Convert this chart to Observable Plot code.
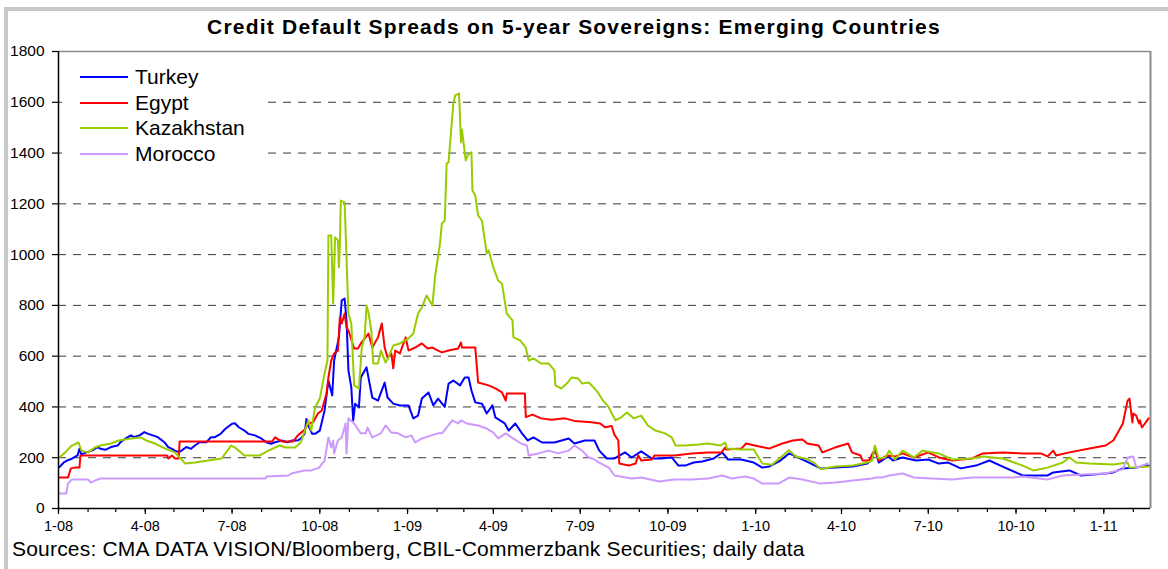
<!DOCTYPE html>
<html><head><meta charset="utf-8">
<script src="https://cdn.jsdelivr.net/npm/d3@7"></script>
<script src="https://cdn.jsdelivr.net/npm/@observablehq/plot@0.6"></script>
<style>
body{margin:0;background:#fff;font-family:"Liberation Sans",Arial,sans-serif;}
#wrap{position:relative;width:1168px;height:569px;overflow:hidden;background:#fff;}
#border{position:absolute;left:4px;top:7px;width:1300px;height:700px;border-left:4px solid #c8c8c8;border-top:4px solid #c8c8c8;box-sizing:border-box;}
#title{position:absolute;left:0;top:15px;width:1148px;text-align:center;font-weight:bold;font-size:21px;letter-spacing:1.2px;line-height:24px;color:#000;}
#chart{position:absolute;left:0;top:40px;}
#legend{position:absolute;left:62px;top:64px;width:200px;background:#fff;}
.row{height:25.7px;display:flex;align-items:center;font-size:21px;color:#000;}
.sw{width:48px;height:2px;margin-left:18px;margin-right:7px;}
#caption{position:absolute;left:12px;top:537px;font-size:21px;letter-spacing:0.2px;line-height:24px;color:#000;white-space:nowrap;}
</style>
</head><body>
<div id="wrap">
<div id="border"></div>
<div id="title"></div>
<div id="chart"></div>
<div id="legend"></div>
<div id="caption"></div>
</div>
<script>
const titleText = "Credit Default Spreads on 5-year Sovereigns: Emerging Countries";
const captionText = "Sources: CMA DATA VISION/Bloomberg, CBIL-Commerzbank Securities; daily data";
const seriesNames = ["Turkey", "Egypt", "Kazakhstan", "Morocco"];
const seriesColors = ["#0000ff", "#ff0000", "#99cc00", "#cc99ff"];
const yTicks = [0, 200, 400, 600, 800, 1000, 1200, 1400, 1600, 1800];
const gridValues = [200, 400, 600, 800, 1000, 1200, 1400, 1600];
const xTickDates = ["2008-01-01","2008-04-01","2008-07-01","2008-10-01","2009-01-01","2009-04-01","2009-07-01","2009-10-01","2010-01-01","2010-04-01","2010-07-01","2010-10-01","2011-01-01"];
const xTickLabels = ["1-08","4-08","7-08","10-08","1-09","4-09","7-09","10-09","1-10","4-10","7-10","10-10","1-11"];
const xDomain = ["2008-01-01", "2011-02-19"];

const turkey = [["2008-01-02",163],["2008-01-07",183],["2008-01-10",189],["2008-01-15",196],["2008-01-21",209],["2008-01-23",235],["2008-01-25",213],["2008-01-31",222],["2008-02-05",228],["2008-02-11",242],["2008-02-14",235],["2008-02-19",231],["2008-02-25",242],["2008-03-03",248],["2008-03-06",261],["2008-03-11",275],["2008-03-17",288],["2008-03-20",281],["2008-03-26",288],["2008-03-31",301],["2008-04-04",294],["2008-04-09",288],["2008-04-14",281],["2008-04-21",261],["2008-04-25",242],["2008-04-29",235],["2008-05-02",228],["2008-05-06",222],["2008-05-09",228],["2008-05-14",242],["2008-05-19",235],["2008-05-23",248],["2008-05-28",261],["2008-06-04",261],["2008-06-09",281],["2008-06-13",281],["2008-06-19",294],["2008-06-24",314],["2008-07-01",334],["2008-07-04",336],["2008-07-08",320],["2008-07-14",307],["2008-07-18",294],["2008-07-25",288],["2008-08-01",275],["2008-08-06",261],["2008-08-11",255],["2008-08-15",261],["2008-08-22",268],["2008-08-28",261],["2008-09-02",268],["2008-09-08",268],["2008-09-11",275],["2008-09-15",294],["2008-09-17",353],["2008-09-19",327],["2008-09-23",294],["2008-09-26",294],["2008-10-01",307],["2008-10-06",386],["2008-10-10",504],["2008-10-14",445],["2008-10-16",583],["2008-10-21",674],["2008-10-24",820],["2008-10-27",827],["2008-10-29",740],["2008-10-31",544],["2008-11-03",477],["2008-11-05",347],["2008-11-07",413],["2008-11-11",398],["2008-11-13",516],["2008-11-19",556],["2008-11-21",516],["2008-11-25",437],["2008-12-01",425],["2008-12-08",496],["2008-12-11",437],["2008-12-17",413],["2008-12-24",406],["2009-01-02",406],["2009-01-07",355],["2009-01-12",366],["2009-01-16",433],["2009-01-23",457],["2009-01-28",406],["2009-02-02",433],["2009-02-09",400],["2009-02-13",492],["2009-02-18",504],["2009-02-25",485],["2009-03-02",516],["2009-03-06",516],["2009-03-09",465],["2009-03-13",418],["2009-03-20",413],["2009-03-25",374],["2009-03-31",406],["2009-04-03",359],["2009-04-08",347],["2009-04-13",335],["2009-04-17",307],["2009-04-24",335],["2009-05-01",296],["2009-05-07",268],["2009-05-13",280],["2009-05-22",260],["2009-06-04",260],["2009-06-19",276],["2009-06-25",256],["2009-07-06",268],["2009-07-16",268],["2009-07-21",228],["2009-07-29",197],["2009-08-06",197],["2009-08-17",221],["2009-08-24",201],["2009-09-03",225],["2009-09-14",197],["2009-09-24",197],["2009-10-05",201],["2009-10-12",169],["2009-10-19",169],["2009-10-28",181],["2009-11-06",185],["2009-11-18",197],["2009-11-27",221],["2009-12-03",193],["2009-12-17",193],["2009-12-30",181],["2010-01-08",161],["2010-01-15",165],["2010-01-27",189],["2010-02-05",217],["2010-02-17",197],["2010-02-26",181],["2010-03-10",158],["2010-03-26",161],["2010-04-13",165],["2010-04-28",177],["2010-05-03",193],["2010-05-06",240],["2010-05-10",181],["2010-05-20",205],["2010-05-25",189],["2010-06-04",201],["2010-06-18",189],["2010-07-01",193],["2010-07-12",177],["2010-07-22",181],["2010-08-04",158],["2010-08-20",169],["2010-09-03",189],["2010-09-17",165],["2010-10-08",130],["2010-11-03",130],["2010-11-09",142],["2010-11-26",150],["2010-12-08",130],["2011-01-03",138],["2011-01-11",142],["2011-01-21",158],["2011-02-04",161],["2011-02-17",169]];

const egypt = [["2008-01-02",122],["2008-01-11",122],["2008-01-14",158],["2008-01-18",161],["2008-01-23",161],["2008-01-24",209],["2008-04-24",209],["2008-04-25",197],["2008-04-29",209],["2008-05-02",197],["2008-05-06",197],["2008-05-07",264],["2008-08-12",264],["2008-08-15",280],["2008-08-22",264],["2008-09-03",264],["2008-09-08",288],["2008-09-15",310],["2008-09-19",335],["2008-09-24",340],["2008-09-29",374],["2008-10-03",386],["2008-10-08",453],["2008-10-10",516],["2008-10-13",583],["2008-10-16",611],["2008-10-20",622],["2008-10-22",753],["2008-10-24",729],["2008-10-27",768],["2008-10-29",713],["2008-10-31",701],["2008-11-06",630],["2008-11-10",630],["2008-11-13",650],["2008-11-18",674],["2008-11-21",689],["2008-11-25",634],["2008-12-01",674],["2008-12-05",729],["2008-12-08",634],["2008-12-11",595],["2008-12-15",611],["2008-12-17",552],["2008-12-19",622],["2008-12-24",611],["2008-12-30",674],["2009-01-02",622],["2009-01-09",634],["2009-01-16",650],["2009-01-22",630],["2009-01-27",634],["2009-02-02",622],["2009-02-06",615],["2009-02-13",622],["2009-02-23",630],["2009-02-26",654],["2009-02-27",634],["2009-03-13",634],["2009-03-16",496],["2009-03-27",485],["2009-04-03",473],["2009-04-10",457],["2009-04-14",425],["2009-04-15",453],["2009-05-04",453],["2009-05-05",360],["2009-05-12",370],["2009-05-21",355],["2009-06-01",350],["2009-06-15",355],["2009-06-25",345],["2009-07-13",340],["2009-07-22",335],["2009-07-27",320],["2009-08-03",325],["2009-08-06",290],["2009-08-10",268],["2009-08-11",177],["2009-08-21",169],["2009-08-28",177],["2009-08-31",209],["2009-09-03",189],["2009-09-14",193],["2009-09-17",209],["2009-10-08",209],["2009-10-26",217],["2009-11-12",221],["2009-11-26",221],["2009-11-30",240],["2009-12-01",232],["2009-12-17",236],["2009-12-22",256],["2009-12-31",248],["2010-01-15",236],["2010-01-29",256],["2010-02-09",268],["2010-02-19",272],["2010-02-24",256],["2010-03-08",248],["2010-03-12",221],["2010-03-25",240],["2010-04-08",256],["2010-04-12",221],["2010-04-21",209],["2010-04-23",189],["2010-04-30",189],["2010-05-04",221],["2010-05-07",221],["2010-05-10",189],["2010-05-19",209],["2010-05-28",205],["2010-06-04",217],["2010-06-16",201],["2010-07-01",221],["2010-07-12",201],["2010-07-26",189],["2010-08-16",197],["2010-08-27",217],["2010-09-17",221],["2010-10-08",217],["2010-10-27",217],["2010-11-03",205],["2010-11-09",228],["2010-11-12",209],["2010-11-26",221],["2010-12-17",236],["2011-01-03",248],["2011-01-11",268],["2011-01-17",307],["2011-01-21",335],["2011-01-26",425],["2011-01-28",433],["2011-01-31",339],["2011-02-01",374],["2011-02-04",366],["2011-02-07",335],["2011-02-08",347],["2011-02-10",319],["2011-02-14",339],["2011-02-17",355]];

const kazakhstan = [["2008-01-02",201],["2008-01-08",221],["2008-01-15",248],["2008-01-22",260],["2008-01-25",228],["2008-02-01",221],["2008-02-08",240],["2008-02-14",248],["2008-02-25",256],["2008-03-04",268],["2008-03-17",276],["2008-03-27",280],["2008-04-02",268],["2008-04-11",256],["2008-04-22",236],["2008-05-02",221],["2008-05-13",177],["2008-05-23",181],["2008-06-06",189],["2008-06-20",197],["2008-06-30",248],["2008-07-04",240],["2008-07-14",209],["2008-07-30",209],["2008-08-08",228],["2008-08-20",248],["2008-08-26",240],["2008-09-05",240],["2008-09-11",260],["2008-09-19",347],["2008-09-22",307],["2008-09-26",398],["2008-10-01",433],["2008-10-06",532],["2008-10-09",583],["2008-10-10",1075],["2008-10-13",1075],["2008-10-14",938],["2008-10-15",808],["2008-10-17",1068],["2008-10-20",1056],["2008-10-21",949],["2008-10-22",1029],["2008-10-23",1213],["2008-10-27",1206],["2008-10-31",768],["2008-11-03",729],["2008-11-06",485],["2008-11-11",473],["2008-11-14",634],["2008-11-17",674],["2008-11-19",800],["2008-11-21",772],["2008-11-24",701],["2008-11-26",571],["2008-12-01",571],["2008-12-04",622],["2008-12-09",575],["2008-12-12",595],["2008-12-17",642],["2008-12-24",650],["2009-01-02",670],["2009-01-07",689],["2009-01-12",768],["2009-01-16",792],["2009-01-21",839],["2009-01-27",800],["2009-01-30",918],["2009-02-04",1044],["2009-02-06",1123],["2009-02-09",1134],["2009-02-11",1359],["2009-02-13",1363],["2009-02-18",1595],["2009-02-20",1627],["2009-02-24",1635],["2009-02-26",1442],["2009-02-27",1493],["2009-03-03",1371],["2009-03-05",1391],["2009-03-09",1403],["2009-03-10",1253],["2009-03-13",1233],["2009-03-16",1154],["2009-03-20",1134],["2009-03-25",1005],["2009-03-27",1017],["2009-04-01",949],["2009-04-06",898],["2009-04-10",886],["2009-04-15",768],["2009-04-21",741],["2009-04-22",674],["2009-04-29",662],["2009-05-05",634],["2009-05-08",583],["2009-05-13",591],["2009-05-21",571],["2009-05-29",571],["2009-06-04",544],["2009-06-05",485],["2009-06-11",473],["2009-06-17",492],["2009-06-22",516],["2009-06-29",512],["2009-07-03",492],["2009-07-10",496],["2009-07-16",473],["2009-07-20",455],["2009-07-24",430],["2009-07-31",398],["2009-08-07",347],["2009-08-13",359],["2009-08-19",378],["2009-08-26",355],["2009-09-03",366],["2009-09-10",327],["2009-09-18",307],["2009-09-28",296],["2009-10-05",280],["2009-10-09",248],["2009-10-19",248],["2009-11-02",252],["2009-11-12",256],["2009-11-25",248],["2009-11-30",260],["2009-12-02",236],["2009-12-17",232],["2009-12-30",232],["2010-01-04",201],["2010-01-08",177],["2010-01-18",172],["2010-01-27",200],["2010-02-05",230],["2010-02-12",205],["2010-02-24",195],["2010-03-03",181],["2010-03-10",156],["2010-03-26",165],["2010-04-13",169],["2010-04-28",181],["2010-05-03",189],["2010-05-06",248],["2010-05-10",197],["2010-05-17",201],["2010-05-21",228],["2010-05-27",193],["2010-06-04",228],["2010-06-16",201],["2010-06-25",228],["2010-07-12",217],["2010-07-26",193],["2010-08-16",197],["2010-08-27",205],["2010-09-17",197],["2010-10-08",169],["2010-10-19",150],["2010-11-03",161],["2010-11-19",181],["2010-11-26",201],["2010-12-03",181],["2010-12-17",177],["2011-01-11",173],["2011-01-26",181],["2011-01-28",161],["2011-02-17",165]];

const morocco = [["2008-01-02",59],["2008-01-09",59],["2008-01-11",98],["2008-01-15",114],["2008-02-01",114],["2008-02-04",102],["2008-02-08",110],["2008-02-14",118],["2008-08-05",118],["2008-08-06",126],["2008-08-29",130],["2008-09-01",138],["2008-09-15",150],["2008-09-22",150],["2008-09-30",160],["2008-10-06",189],["2008-10-10",280],["2008-10-13",240],["2008-10-15",268],["2008-10-16",217],["2008-10-20",268],["2008-10-24",280],["2008-10-28",335],["2008-10-29",217],["2008-10-31",355],["2008-11-06",335],["2008-11-13",296],["2008-11-18",296],["2008-11-20",319],["2008-11-25",280],["2008-12-04",296],["2008-12-09",327],["2008-12-15",299],["2008-12-22",296],["2008-12-30",280],["2009-01-05",288],["2009-01-09",260],["2009-01-16",276],["2009-01-26",288],["2009-02-02",296],["2009-02-06",296],["2009-02-11",319],["2009-02-17",347],["2009-02-23",335],["2009-02-26",347],["2009-03-04",335],["2009-03-16",327],["2009-03-25",315],["2009-04-01",299],["2009-04-06",276],["2009-04-14",296],["2009-04-20",280],["2009-04-30",256],["2009-05-06",248],["2009-05-08",209],["2009-05-18",217],["2009-05-29",228],["2009-06-08",217],["2009-06-19",228],["2009-06-25",248],["2009-07-03",228],["2009-07-10",201],["2009-07-14",197],["2009-07-21",181],["2009-07-31",161],["2009-08-06",130],["2009-08-24",118],["2009-09-03",122],["2009-09-22",106],["2009-10-08",114],["2009-10-26",114],["2009-11-12",118],["2009-11-27",130],["2009-12-07",118],["2009-12-21",126],["2009-12-30",118],["2010-01-08",98],["2010-01-25",98],["2010-02-05",122],["2010-02-19",114],["2010-03-10",98],["2010-03-26",102],["2010-04-13",110],["2010-05-03",118],["2010-05-07",122],["2010-05-14",122],["2010-05-21",130],["2010-06-04",138],["2010-06-16",122],["2010-07-05",118],["2010-07-26",114],["2010-08-16",122],["2010-09-03",122],["2010-09-27",122],["2010-10-08",126],["2010-11-03",114],["2010-11-19",130],["2010-12-10",134],["2011-01-03",138],["2011-01-21",154],["2011-01-26",201],["2011-02-01",205],["2011-02-04",161],["2011-02-16",177]];

const allSeries = [turkey, egypt, kazakhstan, morocco];
const toRows = (arr) => arr.map(([d, v]) => ({date: new Date(d), value: v}));
const labelMap = new Map(xTickDates.map((d, i) => [+new Date(d), xTickLabels[i]]));
const domain = xDomain.map(d => new Date(d));
const monthTicks = d3.utcMonth.range(domain[0], domain[1]);

const plot = Plot.plot({
  width: 1168,
  height: 495,
  marginTop: 11,
  marginBottom: 27,
  marginLeft: 58,
  marginRight: 18,
  style: {fontFamily: '"Liberation Sans", Arial, sans-serif', fontSize: "14.5px", color: "#000", background: "transparent"},
  x: {type: "utc", domain},
  y: {domain: [0, 1800]},
  marks: [
    Plot.ruleY(gridValues, {stroke: "#3a3a3a", strokeWidth: 1, strokeDasharray: "8,7"}),
    Plot.ruleY([1800], {stroke: "#8c8c8c", strokeWidth: 1.5}),
    Plot.ruleX([domain[1]], {stroke: "#8c8c8c", strokeWidth: 2}),
    ...allSeries.map((s, i) => Plot.line(toRows(s), {x: "date", y: "value", stroke: seriesColors[i], strokeWidth: 2, curve: "linear"})),
    Plot.ruleX([domain[0]], {stroke: "#000", strokeWidth: 1.5}),
    Plot.ruleY([0], {stroke: "#000", strokeWidth: 1.5}),
    Plot.axisY({ticks: yTicks, label: null, tickSize: 6, tickPadding: 8, fontSize: 15.5, tickFormat: d => String(d), stroke: "#000", strokeWidth: 1.2}),
    Plot.axisX({ticks: monthTicks, label: null, tickSize: 4, tickFormat: () => "", stroke: "#000", strokeWidth: 1.2}),
    Plot.axisX({ticks: xTickDates.map(d => new Date(d)), label: null, tickSize: 6, tickPadding: 6, tickFormat: d => labelMap.get(+d), stroke: "#000", strokeWidth: 1.2})
  ]
});
document.getElementById("chart").appendChild(plot);
document.getElementById("title").textContent = titleText;
document.getElementById("caption").textContent = captionText;
const legend = document.getElementById("legend");
seriesNames.forEach((n, i) => {
  const row = document.createElement("div");
  row.className = "row";
  const sw = document.createElement("span");
  sw.className = "sw";
  sw.style.background = seriesColors[i];
  const t = document.createElement("span");
  t.textContent = n;
  row.appendChild(sw); row.appendChild(t);
  legend.appendChild(row);
});
</script>
</body></html>
